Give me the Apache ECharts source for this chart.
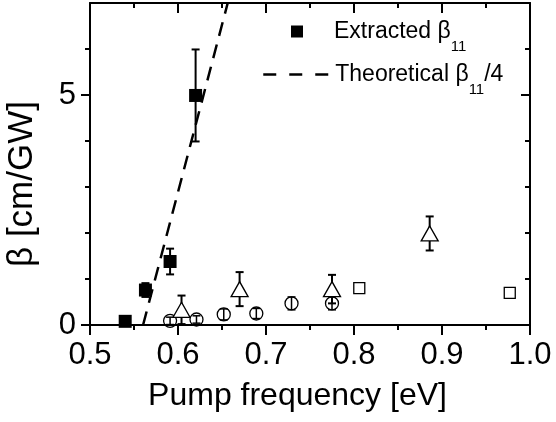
<!DOCTYPE html>
<html><head><meta charset="utf-8">
<script src="https://cdn.jsdelivr.net/npm/echarts@6/dist/echarts.min.js"></script>
<style>html,body{margin:0;padding:0;background:#fff}#c{width:556px;height:422px}</style>
</head><body><div id="c"></div>
<script>
// ---- data ----
const extractedX = [0.540, 0.563, 0.591, 0.620];
const extractedY = [0.08, 0.76, 1.38, 4.99];
const extractedErr = [0.05, 0.15, 0.28, 1.0];
const theoryX = [0.5603, 0.6565];
const theoryY = [0, 7.0];
const circleX = [0.591, 0.621, 0.652, 0.689, 0.729, 0.775];
const circleY = [0.09, 0.12, 0.23, 0.25, 0.47, 0.47];
const circleErr = [0.08, 0.08, 0.12, 0.11, 0.14, 0.14];
const triX = [0.604, 0.670, 0.775, 0.886];
const triY = [0.33, 0.78, 0.78, 1.99];
const triErr = [0.31, 0.37, 0.31, 0.37];
const sqX = [0.806, 0.977];
const sqY = [0.80, 0.70];
const sqErr = [0.08, 0.08];
const yMajorTicks = [0, 5];
const yMinorTicks = [1, 2, 3, 4, 6];
const legendNames = ['Extracted β11', 'Theoretical β11/4'];

const FONT = '"Liberation Sans", Arial, Helvetica, sans-serif';
const pts = (xs, ys) => xs.map((x, i) => [x, ys[i]]);

function errSeries(xs, ys, es, lw, cap, z) {
  return {
    type: 'custom', z: z, silent: true,
    data: xs.map((x, i) => [x, ys[i] - es[i], ys[i] + es[i]]),
    renderItem(params, api) {
      const lo = api.coord([api.value(0), api.value(1)]);
      const hi = api.coord([api.value(0), api.value(2)]);
      const st = { stroke: '#000', lineWidth: lw };
      return { type: 'group', children: [
        { type: 'line', shape: { x1: lo[0], y1: lo[1], x2: hi[0], y2: hi[1] }, style: st },
        { type: 'line', shape: { x1: lo[0] - cap, y1: lo[1], x2: lo[0] + cap, y2: lo[1] }, style: st },
        { type: 'line', shape: { x1: hi[0] - cap, y1: hi[1], x2: hi[0] + cap, y2: hi[1] }, style: st }
      ]};
    }
  };
}

const axisLine = { show: true, onZero: false, lineStyle: { color: '#000', width: 2 } };
const baseX = { type: 'value', min: 0.5, max: 1.0, interval: 0.1, splitLine: { show: false } };
const baseY = { type: 'value', min: 0, max: 7, interval: 1, splitLine: { show: false } };

const rich = {
  a: { fontFamily: FONT, fontSize: 23, lineHeight: 23, color: '#000', padding: [0, 0, 0, 26] },
  b: { fontFamily: FONT, fontSize: 23, lineHeight: 23, color: '#000', padding: [0, 0, 0, 2] },
  m: { fontFamily: FONT, fontSize: 23, lineHeight: 23, color: '#000', padding: [0, 0, 0, 0] },
  s: { fontFamily: FONT, fontSize: 15, lineHeight: 15, color: '#000', padding: [30, 0, 0, 0] }
};

const chart = echarts.init(document.getElementById('c'), null, { renderer: 'canvas' });
chart.setOption({
  animation: false,
  backgroundColor: '#fff',
  grid: { left: 90, right: 26, top: 3, bottom: 97, outerBoundsMode: 'none', containLabel: false },
  legend: [
    { data: [legendNames[0]], left: 291, top: 9, padding: 0, itemWidth: 12, itemHeight: 12,
      selectedMode: false, formatter: () => '{a|Extracted β}{s|11}', textStyle: { rich } },
    { data: [legendNames[1]], left: 262, top: 52, padding: 0, itemWidth: 65, itemHeight: 12,
      selectedMode: false, formatter: () => '{b|Theoretical β}{s|11}{m|/4}', textStyle: { rich },
      itemStyle: { opacity: 0 }, lineStyle: { type: [13, 13], width: 2.5, color: '#000' } }
  ],
  xAxis: [
    Object.assign({}, baseX, {
      position: 'bottom', axisLine,
      axisTick: { show: true, inside: false, length: 10, lineStyle: { color: '#000', width: 2 } },
      minorTick: { show: true, splitNumber: 2, length: 5, lineStyle: { color: '#000', width: 2 } },
      axisLabel: { fontFamily: FONT, fontSize: 31, color: '#000', margin: 15, formatter: v => v.toFixed(1) },
      name: 'Pump frequency [eV]', nameLocation: 'middle', nameGap: 55,
      nameTextStyle: { fontFamily: FONT, fontSize: 32, color: '#000', padding: [0, 25, 0, 0] }
    }),
    Object.assign({}, baseX, {
      position: 'top', axisLine,
      axisTick: { show: true, inside: true, length: 10, lineStyle: { color: '#000', width: 2 } },
      minorTick: { show: true, splitNumber: 2, length: 5, lineStyle: { color: '#000', width: 2 } },
      axisLabel: { show: false }
    })
  ],
  yAxis: [
    Object.assign({}, baseY, {
      position: 'left', axisLine,
      axisTick: { show: true, inside: false, length: 9, customValues: yMajorTicks, lineStyle: { color: '#000', width: 2 } },
      axisLabel: { fontFamily: FONT, fontSize: 31, color: '#000', margin: 14, customValues: yMajorTicks },
      name: 'β [cm/GW]', nameLocation: 'middle', nameGap: 50,
      nameTextStyle: { fontFamily: FONT, fontSize: 35, color: '#000', padding: [0, 40, 0, 0] }
    }),
    Object.assign({}, baseY, {
      position: 'left', axisLine: { show: false },
      axisTick: { show: true, inside: false, length: 5, customValues: yMinorTicks, lineStyle: { color: '#000', width: 2 } },
      axisLabel: { show: false }
    }),
    Object.assign({}, baseY, {
      position: 'right', axisLine,
      axisTick: { show: true, inside: true, length: 9, customValues: yMajorTicks, lineStyle: { color: '#000', width: 2 } },
      axisLabel: { show: false }
    }),
    Object.assign({}, baseY, {
      position: 'right', axisLine: { show: false },
      axisTick: { show: true, inside: true, length: 5, customValues: yMinorTicks, lineStyle: { color: '#000', width: 2 } },
      axisLabel: { show: false }
    })
  ],
  series: [
    { name: legendNames[1], type: 'line', data: pts(theoryX, theoryY), symbol: 'none', z: 2,
      lineStyle: { color: '#000', width: 2.5, type: [14, 9] }, itemStyle: { color: '#000' } },
    errSeries(extractedX, extractedY, extractedErr, 2, 4, 3),
    errSeries(circleX, circleY, circleErr, 1.5, 4, 3),
    errSeries(triX, triY, triErr, 2, 4, 3),
    errSeries(sqX, sqY, sqErr, 1.5, 4, 3),
    { name: 'circles', type: 'scatter', data: pts(circleX, circleY), symbol: 'circle', symbolSize: 13, z: 4,
      itemStyle: { color: 'rgba(255,255,255,0)', borderColor: '#000', borderWidth: 1.3, opacity: 1 } },
    { name: 'triangles', type: 'scatter', data: pts(triX, triY), symbol: 'triangle', symbolSize: [17, 15], z: 4,
      itemStyle: { color: '#fff', borderColor: '#000', borderWidth: 1.3, opacity: 1 } },
    { name: 'squares', type: 'scatter', data: pts(sqX, sqY), symbol: 'rect', symbolSize: 11, z: 4,
      itemStyle: { color: '#fff', borderColor: '#000', borderWidth: 1.3, opacity: 1 } },
    { name: legendNames[0], type: 'scatter', data: pts(extractedX, extractedY), symbol: 'rect', symbolSize: 13, z: 5,
      itemStyle: { color: '#000', opacity: 1 } }
  ]
});
</script></body></html>
